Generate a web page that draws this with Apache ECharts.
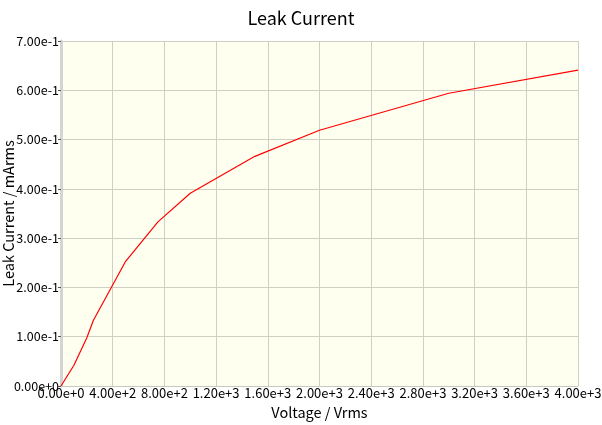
<!DOCTYPE html>
<html lang="en">
<head>
	<meta charset="UTF-8">
	<title>Leak Current</title>
	<style type="text/css">
		body{ margin:0; background:#fff; }
		#a{ width:602px; height:425px; }
	</style>
</head>
<body>
	<div id="a"></div>
	<script type="text/javascript" src="https://cdn.jsdelivr.net/npm/echarts@6/dist/echarts.min.js"></script>
	<script type="text/javascript">
		// voltage (Vrms) and leak current (mArms)
		var voltage = [0, 100, 200, 250, 500, 750, 1000, 1500, 2000, 3000, 4000];
		var current = [0, 0.042, 0.098, 0.133, 0.253, 0.333, 0.391, 0.466, 0.519, 0.594, 0.641];

		var pts = [];
		for (var i = 0; i < voltage.length; i++) {
			pts.push([voltage[i], current[i]]);
		}
		var font = '"Noto Sans CJK JP", "DejaVu Sans Mono", sans-serif';
		var fmt = function (v) { return Number(v).toExponential(2); };

		var myChart = echarts.init(document.getElementById('a'));
		var option = {
			animation: false,
			title: {
				text: 'Leak Current',
				left: 'center',
				top: 4,
				textStyle: { fontFamily: font, fontSize: 18, fontWeight: 'normal', color: '#000' }
			},
			grid: {
				left: 61, right: 24, top: 41, bottom: 39,
				outerBoundsMode: 'none', containLabel: false,
				show: true, backgroundColor: '#fffff0', borderWidth: 0
			},
			xAxis: {
				type: 'value',
				min: 0, max: 4000, interval: 400,
				name: 'Voltage / Vrms',
				nameLocation: 'middle',
				nameGap: 19,
				nameMoveOverlap: false,
				nameTextStyle: { fontFamily: font, fontSize: 14.5, color: '#000' },
				axisLine: { lineStyle: { color: '#c8c8c0', width: 1 } },
				axisTick: { show: false },
				axisLabel: { formatter: fmt, fontFamily: font, fontSize: 13, color: '#000', margin: 1 },
				splitLine: { lineStyle: { color: '#cfcfc4', width: 1 } }
			},
			yAxis: {
				type: 'value',
				min: 0, max: 0.7, interval: 0.1,
				name: 'Leak Current / mArms',
				nameLocation: 'middle',
				nameGap: 45,
				nameMoveOverlap: false,
				nameTextStyle: { fontFamily: font, fontSize: 14.5, color: '#000' },
				axisLine: { show: true, lineStyle: { color: '#d4d4d4', width: 3 } },
				axisTick: { show: true, length: 3, lineStyle: { color: '#555' } },
				axisLabel: { formatter: fmt, fontFamily: font, fontSize: 12.5, color: '#000', margin: 2 },
				splitLine: { lineStyle: { color: '#cfcfc4', width: 1 } }
			},
			series: [{
				type: 'line',
				data: pts,
				symbol: 'none',
				lineStyle: { color: '#ff0000', width: 1.2 }
			}]
		};
		myChart.setOption(option);
	</script>
</body>
</html>
